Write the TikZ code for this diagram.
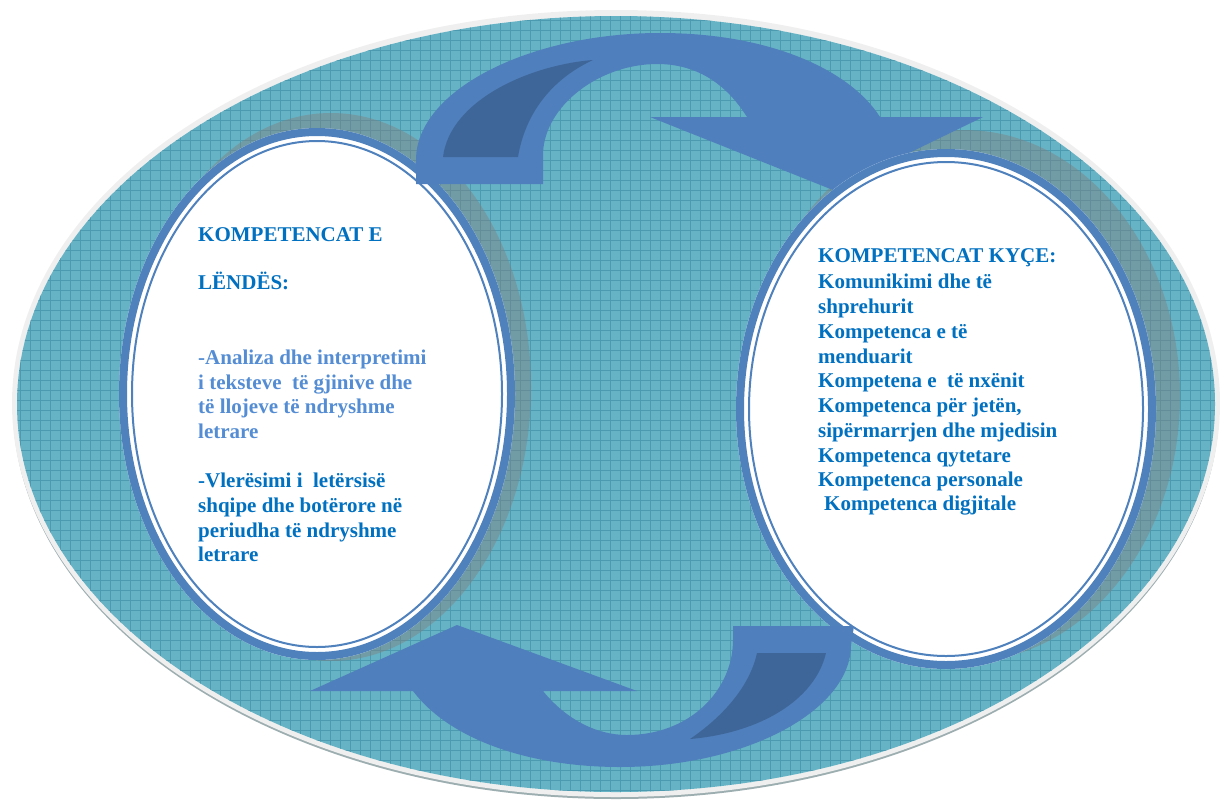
\documentclass[tikz,border=0pt]{standalone}
\usepackage{fontspec}
\setmainfont{Liberation Serif}
\definecolor{tealfill}{HTML}{66B3C5}
\definecolor{gridc}{HTML}{4C9AAF}
\definecolor{arrowc}{HTML}{4F7FBC}
\definecolor{arrowd}{HTML}{3E6699}
\definecolor{ringc}{HTML}{4F81BD}
\definecolor{txtd}{HTML}{0070C0}
\definecolor{txtl}{HTML}{548DD4}
\definecolor{rimc}{HTML}{EFEFEF}
\definecolor{rimshadow}{HTML}{9DAEB1}
\tikzset{
  gridline/.style={gridc, line width=0.55pt},
  shadowfill/.style={fill=gray, opacity=0.45},
  ringthick/.style={ringc, line width=8pt},
  ringthin/.style={ringc, line width=2pt},
  arrowbody/.style={fill=arrowc},
  arrowshade/.style={fill=arrowd},
  txt/.style={anchor=base west, inner sep=0pt, font=\bfseries\fontsize{21}{25}\selectfont},
  txtdark/.style={txt, text=txtd},
  txtlight/.style={txt, text=txtl}
}
\begin{document}
\begin{tikzpicture}[x=1pt,y=-1pt]
\useasboundingbox (0,0) rectangle (1220,801);
% big background ellipse
\fill[rimshadow] (616,407) ellipse [x radius=603pt, y radius=392pt];
\fill[rimc] (616,403.5) ellipse [x radius=604pt, y radius=393.5pt];
\fill[tealfill] (616,404) ellipse [x radius=599pt, y radius=388pt];
\begin{scope}
  \clip (616,404) ellipse [x radius=599pt, y radius=388pt];
  \foreach \gx in {0,10,...,1220} \draw[gridline] (\gx,0) -- (\gx,801);
  \foreach \gy in {0,10,...,800} \draw[gridline] (0,\gy) -- (1220,\gy);
\end{scope}
% shadows of the two inner ellipses
\fill[shadowfill] (331,387) ellipse [x radius=200pt, y radius=274pt];
\fill[shadowfill] (964,396) ellipse [x radius=216pt, y radius=266pt];
% left ellipse
\fill[white] (317,394) ellipse [x radius=198pt, y radius=266pt];
\draw[ringthick] (317,394) ellipse [x radius=194pt, y radius=262pt];
\draw[ringthin] (317,394) ellipse [x radius=185pt, y radius=253pt];
% upper arrow
\fill[arrowbody] (416,184) -- (416,160)
  .. controls (416,90) and (530,33) .. (660,33)
  .. controls (770,33) and (850,70) .. (880,117)
  -- (983,117) -- (833,190) -- (650,117) -- (747,117)
  .. controls (725,82) and (695,64) .. (657,64)
  .. controls (600,64) and (545,105) .. (543,153)
  -- (543,184) -- cycle;
\fill[arrowshade] (443,157) -- (518,157)
  .. controls (525,115) and (550,80) .. (593,60)
  .. controls (530,65) and (450,100) .. (443,157) -- cycle;
% right ellipse
\fill[white] (946,409) ellipse [x radius=210pt, y radius=260pt];
\draw[ringthick] (946,409) ellipse [x radius=206pt, y radius=256pt];
\draw[ringthin] (946,409) ellipse [x radius=197pt, y radius=247pt];
% lower arrow
\fill[arrowbody] (733,626) -- (854,626) -- (851,645)
  .. controls (851,710) and (747,767) .. (620,767)
  .. controls (530,767) and (450,740) .. (413,691)
  -- (310,691) -- (457,625) -- (637,691) -- (543,691)
  .. controls (565,718) and (595,735) .. (627,735)
  .. controls (690,735) and (733,690) .. (733,640) -- cycle;
\fill[arrowshade] (757,653) -- (826,653)
  .. controls (815,700) and (760,733) .. (690,739)
  .. controls (725,715) and (750,685) .. (757,653) -- cycle;
% left text
\node[txtdark] (l1) at (198,241) {KOMPETENCAT E};
\node[txtdark] (l2) at (198,289) {LËNDËS:};
\node[txtlight] (l3) at (198,364) {-Analiza dhe interpretimi};
\node[txtlight] (l4) at (198,389) {i teksteve\ \ të gjinive dhe};
\node[txtlight] (l5) at (198,413) {të llojeve të ndryshme};
\node[txtlight] (l6) at (198,438) {letrare};
\node[txtdark] (l7) at (198,487) {-Vlerësimi i\ \ letërsisë};
\node[txtdark] (l8) at (198,512) {shqipe dhe botërore në};
\node[txtdark] (l9) at (198,537) {periudha të ndryshme};
\node[txtdark] (l10) at (198,561) {letrare};
% right text
\node[txtdark] (r1) at (818,262) {KOMPETENCAT KYÇE:};
\node[txtdark] (r2) at (818,288) {Komunikimi dhe të};
\node[txtdark] (r3) at (818,313) {shprehurit};
\node[txtdark] (r4) at (818,338) {Kompetenca e të};
\node[txtdark] (r5) at (818,363) {menduarit};
\node[txtdark] (r6) at (818,387) {Kompetena e\ \ të nxënit};
\node[txtdark] (r7) at (818,412) {Kompetenca për jetën,};
\node[txtdark] (r8) at (818,437) {sipërmarrjen dhe mjedisin};
\node[txtdark] (r9) at (818,462) {Kompetenca qytetare};
\node[txtdark] (r10) at (818,486) {Kompetenca personale};
\node[txtdark] (r11) at (824,510) {Kompetenca digjitale};
\end{tikzpicture}
\end{document}
